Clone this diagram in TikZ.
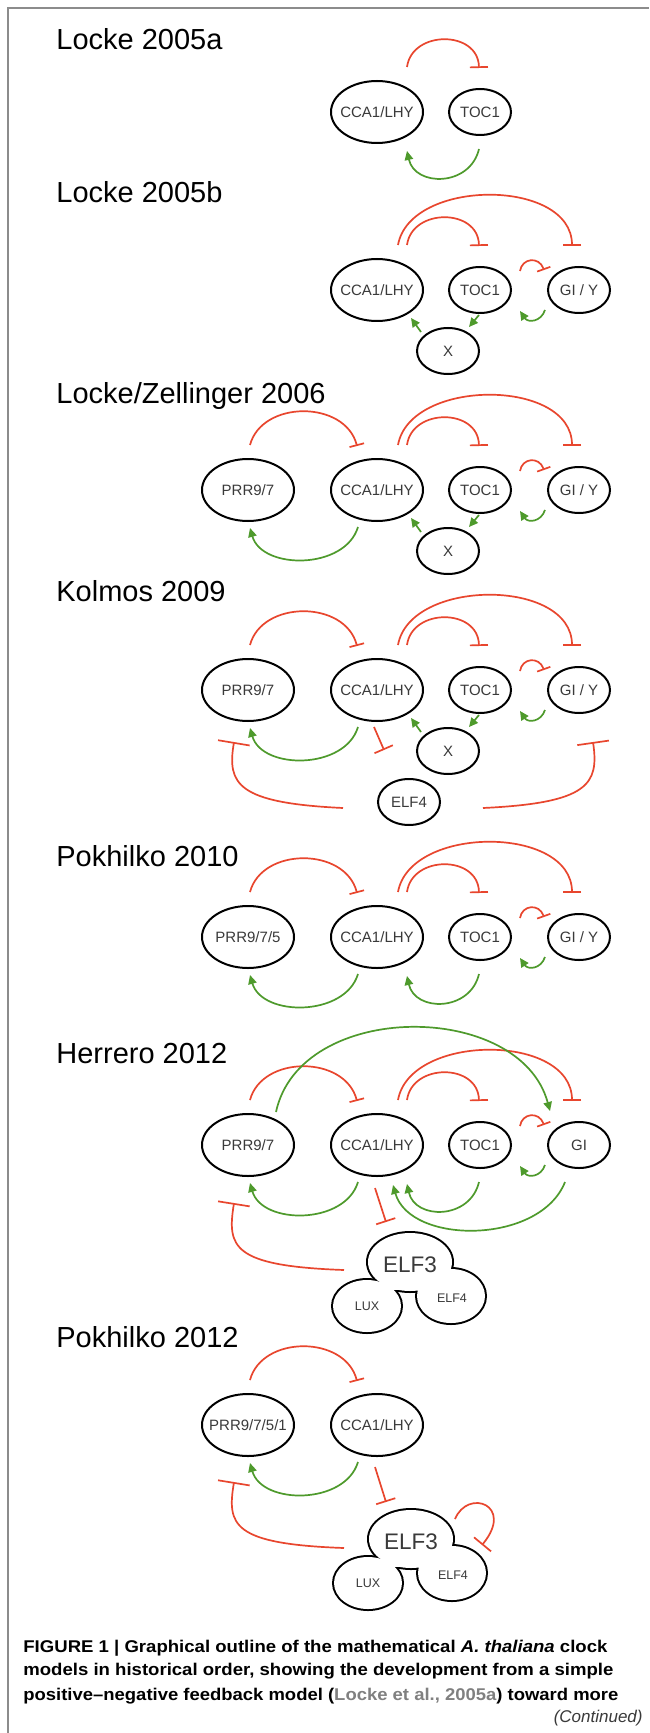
\documentclass[tikz,border=0pt]{standalone}
\usepackage{fontspec}
\setmainfont{Liberation Sans}
\usepackage{graphicx}
\usetikzlibrary{shapes.geometric,arrows.meta,calc}
\definecolor{inhred}{HTML}{E8462E}
\definecolor{actgreen}{HTML}{4E9A2C}
\definecolor{labgray}{HTML}{3A3A3A}
\definecolor{framegray}{HTML}{8C8C8C}
\definecolor{citegray}{HTML}{808080}
\newcommand\nlab[1]{\makebox[0pt]{#1}}
\tikzset{
  bignode/.style={draw, ellipse, line width=1pt, minimum width=46pt, minimum height=31pt,
    inner sep=0pt, font=\fontsize{7.5pt}{9pt}\selectfont, text=labgray},
  smallnode/.style={bignode, minimum width=31pt, minimum height=23pt},
  inh/.style={draw=inhred, line width=0.85pt, -{Bar[width=#1]}},
  inh/.default=9pt,
  act/.style={draw=actgreen, line width=0.85pt, -{Triangle[length=4.5pt,width=4.2pt]}},
  paneltitle/.style={anchor=base west, inner sep=0pt, font=\fontsize{14.5pt}{17pt}\selectfont},
  captext/.style={anchor=base west, inner sep=0pt, font=\fontsize{8.5pt}{10pt}\selectfont\bfseries},
  lobelab/.style={inner sep=0pt, text=labgray, font=\fontsize{6.25pt}{8pt}\selectfont},
}
% motif macros (#1 = panel number)
\newcommand\prrarc[1]{\draw[inh=7.5pt] ($(p#1)+(2,-45)$) .. controls ($(p#1)+(14,-90)$) and ($(c#1)+(-32,-90)$) .. ($(c#1)+(-20,-44)$);}
\newcommand\prrback[1]{\draw[act] ($(c#1)+(-19,37)$) .. controls ($(c#1)+(-32,80)$) and ($(p#1)+(14,80)$) .. ($(p#1)+(2,38)$);}
\newcommand\shortarc[1]{\draw[inh=9pt] ($(c#1)+(30,-45)$) .. controls ($(c#1)+(35,-82)$) and ($(t#1)+(-2,-82)$) .. ($(t#1)+(-1,-44)$);}
\newcommand\longarc[1]{\draw[inh=9pt] ($(c#1)+(21,-45)$) .. controls ($(c#1)+(33,-112)$) and ($(g#1)+(-7,-112)$) .. ($(g#1)+(-7,-44)$);}
\newcommand\tgpair[1]{%
  \draw[inh=7pt] ($(t#1)+(40,-19)$) .. controls ($(t#1)+(42,-32)$) and ($(g#1)+(-40,-34)$) .. ($(g#1)+(-35,-20)$);
  \draw[act] ($(g#1)+(-34,20)$) .. controls ($(g#1)+(-38,32)$) and ($(t#1)+(48,33)$) .. ($(t#1)+(40,21)$);}
\newcommand\xpair[1]{%
  \draw[act] ($(x#1)+(-27,-19)$) -- ($(c#1)+(34,28)$);
  \draw[act] ($(t#1)+(-1,25)$) -- ($(x#1)+(21,-24)$);}
\newcommand\tocback[1]{\draw[act] ($(t#1)+(-1,37)$) .. controls ($(t#1)+(-10,75)$) and ($(c#1)+(38,75)$) .. ($(c#1)+(30,39)$);}
% ELF3 / LUX / ELF4 complex: #1 name suffix, #2 x, #3 y
\newcommand\elfcomplex[3]{%
  \begin{scope}[shift={(#2,#3)}]
    \draw[line width=2pt] (0,-3) ellipse [x radius=42, y radius=29];
    \draw[line width=2pt] (-43,41) ellipse [x radius=34, y radius=26];
    \draw[line width=2pt] (41,31) ellipse [x radius=34, y radius=27];
    \draw[line width=2pt] (-22,-3) rectangle (22,25);
    \fill[white] (0,-3) ellipse [x radius=42, y radius=29];
    \fill[white] (-43,41) ellipse [x radius=34, y radius=26];
    \fill[white] (41,31) ellipse [x radius=34, y radius=27];
    \fill[white] (-22,-3) rectangle (22,25);
    \node[inner sep=0pt, text=labgray, font=\fontsize{11.25pt}{13pt}\selectfont] (elf#1) at (0,0) {ELF3};
    \node[lobelab] (lux#1) at (-43,41) {LUX};
    \node[lobelab] (elffour#1) at (42,33) {ELF4};
  \end{scope}}
\begin{document}
\begin{tikzpicture}[x=0.5pt,y=-0.5pt]
\useasboundingbox (0,0) rectangle (649,1733);
\fill[white] (0,0) rectangle (649,1733);
\draw[framegray, line width=1pt] (7.5,1733) -- (7.5,8) -- (649,8);

% ---------- Locke 2005a
\node[paneltitle] (ta1) at (56,50) {Locke 2005a};
\node[bignode] (ca) at (377,112) {\nlab{CCA1/LHY}};
\node[smallnode] (ta) at (480,112) {\nlab{TOC1}};
\shortarc{a}
\tocback{a}

% ---------- Locke 2005b
\node[paneltitle] (ta2) at (56,203) {Locke 2005b};
\node[bignode] (cb) at (377,290) {\nlab{CCA1/LHY}};
\node[smallnode] (tb) at (480,290) {\nlab{TOC1}};
\node[smallnode] (gb) at (579,290) {\nlab{GI / Y}};
\node[smallnode] (xb) at (448,351) {\nlab{X}};
\longarc{b}
\shortarc{b}
\tgpair{b}
\xpair{b}

% ---------- Locke/Zellinger 2006
\node[paneltitle] (ta3) at (56,403) {Locke/Zellinger 2006};
\node[bignode] (p3) at (248,490) {\nlab{PRR9/7}};
\node[bignode] (c3) at (377,490) {\nlab{CCA1/LHY}};
\node[smallnode] (t3) at (480,490) {\nlab{TOC1}};
\node[smallnode] (g3) at (579,490) {\nlab{GI / Y}};
\node[smallnode] (x3) at (448,551) {\nlab{X}};
\prrarc{3}
\prrback{3}
\longarc{3}
\shortarc{3}
\tgpair{3}
\xpair{3}

% ---------- Kolmos 2009
\node[paneltitle] (ta4) at (56,601) {Kolmos 2009};
\node[bignode] (p4) at (248,690) {\nlab{PRR9/7}};
\node[bignode] (c4) at (377,690) {\nlab{CCA1/LHY}};
\node[smallnode] (t4) at (480,690) {\nlab{TOC1}};
\node[smallnode] (g4) at (579,690) {\nlab{GI / Y}};
\node[smallnode] (x4) at (448,751) {\nlab{X}};
\node[smallnode] (e4) at (409,802) {\nlab{ELF4}};
\prrarc{4}
\prrback{4}
\longarc{4}
\shortarc{4}
\tgpair{4}
\xpair{4}
\draw[inh=10pt] ($(c4)+(-3,37)$) -- ($(e4)+(-25,-52)$);
\draw[inh=16pt] ($(e4)+(-66,6)$) .. controls ($(e4)+(-172,1)$) and ($(e4)+(-182,-18)$) .. ($(p4)+(-14,52)$);
\draw[inh=16pt] ($(e4)+(74,6)$) .. controls ($(e4)+(180,1)$) and ($(e4)+(190,-18)$) .. ($(g4)+(14,52)$);

% ---------- Pokhilko 2010
\node[paneltitle] (ta5) at (56,866) {Pokhilko 2010};
\node[bignode] (p5) at (248,937) {\nlab{PRR9/7/5}};
\node[bignode] (c5) at (377,937) {\nlab{CCA1/LHY}};
\node[smallnode] (t5) at (480,937) {\nlab{TOC1}};
\node[smallnode] (g5) at (579,937) {\nlab{GI / Y}};
\prrarc{5}
\prrback{5}
\longarc{5}
\shortarc{5}
\tgpair{5}
\tocback{5}

% ---------- Herrero 2012
\node[paneltitle] (ta6) at (56,1063) {Herrero 2012};
\node[bignode] (p6) at (248,1145) {\nlab{PRR9/7}};
\node[bignode] (c6) at (377,1145) {\nlab{CCA1/LHY}};
\node[smallnode] (t6) at (480,1145) {\nlab{TOC1}};
\node[smallnode] (g6) at (579,1145) {\nlab{GI}};
\elfcomplex{H}{410}{1265}
\prrarc{6}
\longarc{6}
\shortarc{6}
\draw[act] ($(p6)+(28,-33)$) .. controls ($(p6)+(52,-145)$) and ($(g6)+(-59,-145)$) .. ($(g6)+(-29,-34)$);
\prrback{6}
\tgpair{6}
\tocback{6}
\draw[act] ($(g6)+(-14,37)$) .. controls ($(g6)+(-39,100)$) and ($(c6)+(33,100)$) .. ($(c6)+(16,40)$);
\draw[inh=10pt] ($(c6)+(-2,43)$) -- ($(elfH)+(-24,-43)$);
\draw[inh=16pt] ($(elfH)+(-66,5)$) .. controls ($(elfH)+(-178,1)$) and ($(elfH)+(-183,-18)$) .. ($(p6)+(-14,58)$);

% ---------- Pokhilko 2012
\node[paneltitle] (ta7) at (56,1347) {Pokhilko 2012};
\node[bignode] (p7) at (248,1425) {\nlab{PRR9/7/5/1}};
\node[bignode] (c7) at (377,1425) {\nlab{CCA1/LHY}};
\elfcomplex{P}{411}{1542}
\prrarc{7}
\prrback{7}
\draw[inh=10pt] ($(c7)+(-2,42)$) -- ($(elfP)+(-25,-40)$);
\draw[inh=16pt] ($(elfP)+(-67,6)$) .. controls ($(elfP)+(-179,2)$) and ($(elfP)+(-184,-17)$) .. ($(p7)+(-14,57)$);
\draw[inh=11pt] ($(elfP)+(44,-23)$) .. controls ($(elfP)+(57,-54)$) and ($(elfP)+(104,-37)$) .. ($(elfP)+(71,3)$);

% ---------- caption
\node[captext] (cap1) at (23,1652) {\resizebox{292pt}{\height}{FIGURE 1 | Graphical outline of the mathematical \textit{A. thaliana} clock}};
\node[captext] (cap2) at (23,1675) {\resizebox{295pt}{\height}{models in historical order, showing the development from a simple}};
\node[captext] (cap3) at (23,1700) {\resizebox{297.5pt}{\height}{positive–negative feedback model (\textcolor{citegray}{Locke et al., 2005a}) toward more}};
\node[anchor=base east, inner sep=0pt, text=labgray, font=\fontsize{8.5pt}{10pt}\selectfont\itshape] (cont) at (643,1722) {(Continued)};
\end{tikzpicture}
\end{document}
